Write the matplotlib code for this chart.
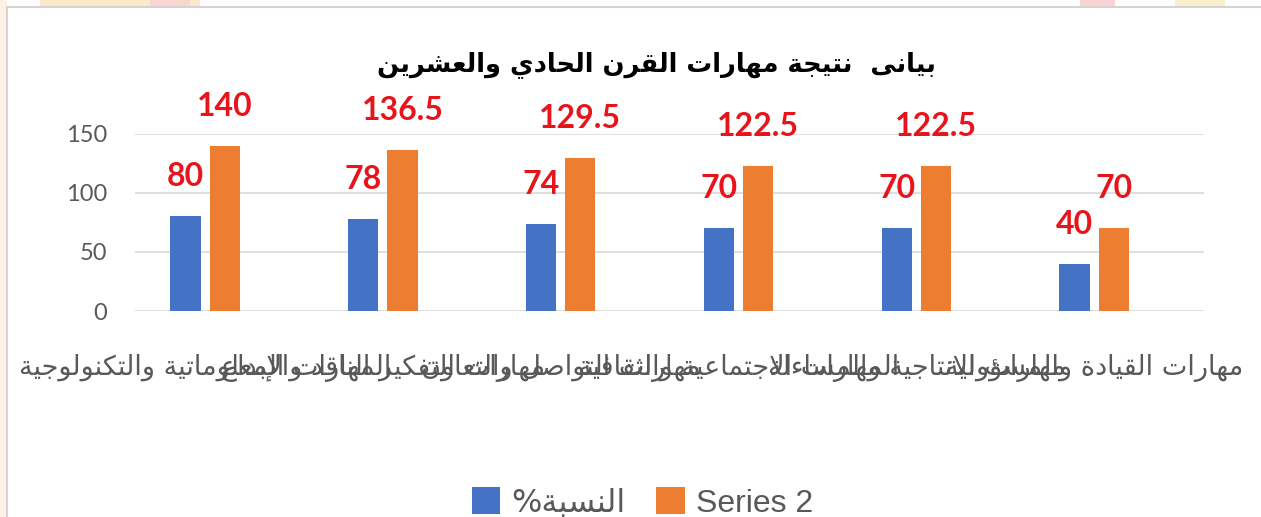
import matplotlib
matplotlib.use('Agg')
import matplotlib.pyplot as plt
import numpy as np
from matplotlib.lines import Line2D
from matplotlib.patches import Rectangle

# simple arabic shaping (presentation forms B) + visual reversal
_seq = "ءآأؤإئابةتثجحخدذرزسشصضطظعغفقكلمنهوىي"
_n = [1, 2, 2, 2, 2, 4, 2, 4, 2, 4, 4, 4, 4, 4, 2, 2, 2, 2,
      4, 4, 4, 4, 4, 4, 4, 4, 4, 4, 4, 4, 4, 4, 4, 2, 2, 4]
FORMS = {}
_code = 0xFE80
for ch, n in zip(_seq, _n):
    FORMS[ch] = [_code + k for k in range(n)]
    _code += n
LAMALEF = {'آ': 0xFEF5, 'أ': 0xFEF7, 'إ': 0xFEF9, 'ا': 0xFEFB}


def ar(s):
    toks = []
    i = 0
    while i < len(s):
        if s[i] == 'ل' and i + 1 < len(s) and s[i + 1] in LAMALEF:
            toks.append(('LA', s[i + 1]))
            i += 2
        else:
            toks.append(('C', s[i]))
            i += 1

    def dual(t):
        return t[0] == 'C' and t[1] in FORMS and len(FORMS[t[1]]) == 4

    def joining(t):
        return t[0] == 'LA' or (t[1] in FORMS and len(FORMS[t[1]]) > 1)

    out = []
    for j, t in enumerate(toks):
        prev = toks[j - 1] if j > 0 else None
        nxt = toks[j + 1] if j + 1 < len(toks) else None
        jp = prev is not None and dual(prev) and joining(t)
        if t[0] == 'LA':
            out.append(chr(LAMALEF[t[1]] + (1 if jp else 0)))
            continue
        c = t[1]
        if c not in FORMS:
            out.append(c)
            continue
        f = FORMS[c]
        jn = len(f) == 4 and nxt is not None and joining(nxt)
        idx = 3 if (jp and jn) else 1 if jp else 2 if jn else 0
        out.append(chr(f[idx]))
    return ''.join(reversed(out))


# data
categories = [
    "المهارات المعلوماتية والتكنولوجية",
    "مهارات التفكير الناقد والإبداع",
    "مهارات التواصل والتعاون",
    "المهارات الاجتماعية والثقافية",
    "مهارات الانتاجية والمساءلة",
    "مهارات القيادة والمسؤولية",
]
percent = [80, 78, 74, 70, 70, 40]
series2 = [140, 136.5, 129.5, 122.5, 122.5, 70]
yticks = [0, 50, 100, 150]
title = "بيانى  نتيجة مهارات القرن الحادي والعشرين"
legend_labels = ["%" + ar("النسبة"), "Series 2"]

W, H = 1261, 517
fig = plt.figure(figsize=(W / 100, H / 100), dpi=100)

# frame / background remnants
fig.add_artist(Rectangle((0, 0), 7 / W, 1, transform=fig.transFigure,
                         color='#FDF3E4', lw=0))
for x0, x1, c in [(40, 200, '#FCE9CC'), (150, 190, '#F9D6D0'),
                  (1080, 1115, '#F9D3D3'), (1175, 1225, '#FCEFCF')]:
    fig.add_artist(Rectangle((x0 / W, 1 - 7 / H), (x1 - x0) / W, 7 / H,
                             transform=fig.transFigure, color=c, lw=0))
fig.add_artist(Line2D([7 / W, 1], [1 - 7 / H] * 2, color='#D4D4D4', lw=1.5))
fig.add_artist(Line2D([7 / W] * 2, [0, 1 - 7 / H], color='#D4D4D4', lw=1.5))

ax = fig.add_axes([135 / W, 1 - 311 / H, 1069 / W, 177.3 / H])
x = np.arange(len(categories))
b1 = ax.bar(x - 0.113, percent, 0.17, color='#4472C4', zorder=3)
b2 = ax.bar(x + 0.108, series2, 0.17, color='#ED7D31', zorder=3)

for bars, vals in [(b1, percent), (b2, series2)]:
    for r, v in zip(bars, vals):
        ax.annotate(f"{v:g}", xy=(r.get_x() + r.get_width() / 2, v),
                    xytext=(0, 18), textcoords='offset points',
                    ha='center', va='bottom', color='#E8141B',
                    fontsize=23, fontweight='bold', family='Lato',
                    annotation_clip=False)

ax.set_xlim(-0.397, 5.616)
ax.set_ylim(0, 150)
ax.set_yticks(yticks)
ax.set_yticklabels([str(t) for t in yticks], family='Lato', fontsize=17,
                   color='#595959')
ax.set_xticks(x)
ax.set_xticklabels([ar(c) for c in categories], family='DejaVu Sans',
                   fontsize=19.5, color='#595959')
ax.tick_params(length=0)
ax.tick_params(axis='y', pad=20)
ax.tick_params(axis='x', pad=31)
ax.yaxis.grid(True, color='#D9D9D9', lw=1.2, zorder=0)
for s in ax.spines.values():
    s.set_visible(False)

fig.text(656 / W, 1 - 65 / H, ar(title), ha='center', va='center',
         fontsize=18.5, fontweight='bold', family='DejaVu Sans', color='black')

leg = fig.legend([b1, b2], legend_labels, loc='center',
                 bbox_to_anchor=(0.5 + 12 / W, 1 - 503 / H), ncol=2,
                 frameon=False, handlelength=0.9, handleheight=0.9,
                 handletextpad=0.35, columnspacing=0.95,
                 prop={'family': 'Liberation Sans', 'size': 23})
leg.get_texts()[0].set_fontfamily('DejaVu Sans')
for t in leg.get_texts():
    t.set_color('#595959')

fig.savefig('out.png', dpi=100)
